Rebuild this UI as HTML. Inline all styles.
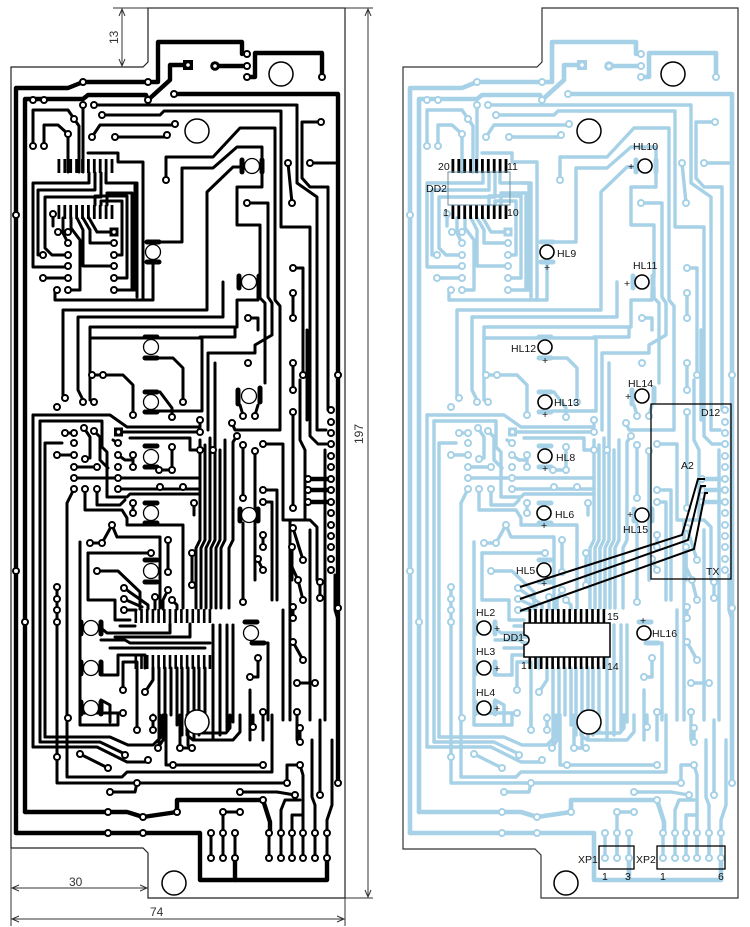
<!DOCTYPE html>
<html><head><meta charset="utf-8"><style>
html,body{margin:0;padding:0;background:#fff;}
svg{display:block;}
.t{fill:none;stroke:currentColor;stroke-width:var(--tw,3);stroke-linejoin:round;stroke-linecap:round;}
.k{fill:none;stroke:currentColor;stroke-width:var(--kw,4.4);stroke-linejoin:round;stroke-linecap:round;}
.p{fill:#fff;stroke:currentColor;stroke-width:2;}
.bar{fill:none;stroke:currentColor;stroke-width:5;stroke-linecap:round;}
.lbl{font-family:"Liberation Sans",sans-serif;font-size:10.5px;fill:#111;}
.dim{font-family:"Liberation Sans",sans-serif;font-size:12px;fill:#333;}
</style></head><body>
<svg width="750" height="927" viewBox="0 0 750 927" xmlns="http://www.w3.org/2000/svg" xmlns:xlink="http://www.w3.org/1999/xlink">
<defs>
<g id="tr">
<!-- thick -->
<path class="k" d="M16,833 V88 H68 L83,82 H158 V42 H242 V54"/>
<path class="k" d="M148,100 L170,80 V65 H183"/>
<path class="k" d="M25,812 V99 H83 L88,95 H146 L148,100"/>
<path class="k" d="M174,94 H338 V783"/>
<path class="k" d="M215,66 H247"/>
<path class="k" d="M247,77 H255 V53 H322 V77"/>
<path class="k" d="M16,833 H200 V880 H327 V858"/>
<path class="k" d="M235,880 V858"/>
<path class="k" d="M25,812 H127 L143,817 L177,812 V800 H263 L270,822 V833"/>
<path class="k" d="M308,479 H331 M308,490 H331 M308,502 H331"/>
<!-- top region -->
<path class="t" d="M83,105 V172"/>
<path class="t" d="M94,105 H297 V183 L317,197 V430 H326"/>
<path class="t" d="M102,115 H160 L164,111 H281 V227 H310 V436 L318,444 H326"/>
<path class="t" d="M92,137 L100,125 H175"/>
<path class="t" d="M115,137 H167"/>
<path class="t" d="M33,146 V110 H68 L79,126 V172"/>
<path class="t" d="M44,146 V125 H58 L68,134 V172"/>
<path class="t" d="M88,153 H118 V162 H143 V300"/>
<path class="t" d="M166,180 V157 H213 L240,128 H275 V300 L280,306 V430 H235 L232,423"/>
<path class="t" d="M153,242 H182 V168 H213 L237,147 H262 V158"/>
<path class="t" d="M240,167 H233 L207,192 V310 H63 V398"/>
<path class="t" d="M262,172 V187 H237 V225 H260 V277"/>
<path class="t" d="M260,288 V298 L265,303 V383"/>
<path class="t" d="M247,203 H268 V297 L272,303 V335 L255,345 V353 H208 V430"/>
<path class="t" d="M288,163 L292,203"/>
<path class="t" d="M310,163 H335"/>
<path class="t" d="M321,122 H302 V178 L310,187 H328 V410"/>
<path class="t" d="M293,268 H303 V375"/>
<path class="t" d="M293,293 V318 M293,363 V390 M293,413 V508"/>
<path class="t" d="M248,318 H258 V330"/>
<path class="t" d="M153,262 V300 H55 V290"/>
<path class="t" d="M114,290 H135 V183 H128"/>
<!-- DD2 routing -->
<path class="t" d="M89,173 V183 H33 V267 H68"/>
<path class="t" d="M95,173 V190 H38 V255 H43"/>
<path class="t" d="M101,173 V197 H45 V248 L52,255 H68"/>
<path class="t" d="M106,173 V183 H137 V297"/>
<path class="t" d="M63,218 V233 L68,243"/>
<path class="t" d="M71,218 V228 L80,240 V290 H68"/>
<path class="t" d="M77,218 L83,230 V266 H114"/>
<path class="t" d="M83,218 L90,230 V243 H114"/>
<path class="t" d="M89,218 L97,232 H114"/>
<path class="t" d="M95,205 V196 H127 V278 H114"/>
<path class="t" d="M101,205 V201 H122 V255 H114"/>
<path class="t" d="M107,205 V193 H132 V290"/>
<path class="t" d="M43,278 H68 M58,232 H68 M53,214 V226"/>
<!-- middle upper -->
<path class="t" d="M223,282 V317 H78 V390 L83,400"/>
<path class="t" d="M258,290 V300 H237 V327 H90 V400"/>
<path class="t" d="M90,338 H202 V411 H158"/>
<path class="t" d="M200,337 H235 V327"/>
<path class="t" d="M151,358 H173 L183,368 V402"/>
<path class="t" d="M92,375 H123 L133,385 V415"/>
<path class="t" d="M151,392 H160 L172,408 V417"/>
<path class="t" d="M33,415 H110 L127,427 H200 V420"/>
<path class="t" d="M40,421 H102 V447 L107,452 V497 H127 L130,494 H200"/>
<path class="t" d="M118,432 H200"/>
<path class="t" d="M33,415 V747 M40,421 V742 M45,443 V737 M45,443 H62"/>
<path class="t" d="M65,433 H74 M84,428 L90,437 V458 H85 M94,431 L100,437 V460 L108,468 M57,455 H74 M74,478 H200 M97,467 H74"/>
<path class="t" d="M85,489 V510 H122 L127,518 V525 H183 V608 M97,489 V505 H120 L125,500 M74,489 L67,503 V620"/>
<path class="t" d="M118,443 L113,440 M130,438 H190 V450 H200 M118,489 H200 M133,455 V467 M159,470 H172 M172,447 V470 M118,455 L125,460 H133 M133,503 V513 M194,503 V515"/>
<path class="t" d="M240,405 L243,415 M258,405 L255,415"/>
<path class="t" d="M243,445 V498 M255,451 V580 M237,436 L233,442 V540 L229,548 V608"/>
<path class="t" d="M263,444 H283 V520 H310 L317,527 V580"/>
<path class="t" d="M263,490 H277 V600 M263,502 H272 V600 M292,547 V580"/>
<path class="t" d="M307,330 V420 M300,380 V440 L305,450 V520"/>
<path class="t" d="M200,440 V540 L196,548 V608 M205,445 V540 L201,548 V608 M210,438 V540 L206,548 V608 M215,363 V540 L211,548 V608 M220,450 V540 L216,548 V608 M225,440 V540 L221,548 V608"/>
<path class="t" d="M213,625 V740 M220,625 V735 M227,625 V730 M233,625 V722"/>
<path class="t" d="M325,450 V720 M290,520 V720 M310,530 V720"/>
<!-- Z4 left -->
<path class="t" d="M57,587 V757"/>
<path class="t" d="M80,542 V713 H123"/>
<path class="t" d="M90,543 H102 L112,525"/>
<path class="t" d="M112,525 L117,537 H160 V608"/>
<path class="t" d="M168,540 V572"/>
<path class="t" d="M88,553 V600 H115 V620 H130"/>
<path class="t" d="M88,553 H151"/>
<path class="t" d="M97,571 H118 L140,592 V609"/>
<path class="t" d="M124,588 L148,605 V609 M124,599 L142,607 M124,610 H136"/>
<path class="t" d="M192,553 V585 M155,597 V609 M168,590 L163,600 V609 M172,600 L177,605 V609"/>
<path class="t" d="M101,628 L107,633 H170 V624"/>
<path class="t" d="M101,640 H125 L130,643 H210"/>
<path class="t" d="M110,648 H205 M115,637 H190 V624 M120,626 H135"/>
<path class="t" d="M101,675 H118 V655 H145 V668"/>
<path class="t" d="M123,690 V662 H137 V668"/>
<path class="t" d="M145,692 L153,680 V668"/>
<path class="t" d="M101,700 L110,705 V722"/>
<path class="t" d="M137,668 V730 M159,668 V745 M165,668 V740 M171,668 V715 M177,668 V725 M182,668 V735 M188,668 V745 M194,668 V740 M199,668 V735 M205,668 V730"/>
<!-- Z4 right -->
<path class="t" d="M243,523 V602"/>
<path class="t" d="M263,535 V548 M258,560 L263,570"/>
<path class="t" d="M293,528 L303,560 M292,547 V567 L298,580 L303,600 M293,607 V618 M293,642 L303,660 M320,582 V598"/>
<path class="t" d="M297,683 H315"/>
<path class="t" d="M262,643 H268 V720 M258,658 V677 H250"/>
<path class="t" d="M335,575 V610 L338,620"/>
<path class="t" d="M263,712 V740 M297,712 V740 M250,690 V740 M283,610 V720"/>
<!-- Z5 -->
<path class="t" d="M33,747 H97 L127,762 H147"/>
<path class="t" d="M40,742 H100 L125,754"/>
<path class="t" d="M45,737 H110 L128,745 H153 L160,738 V715"/>
<path class="t" d="M57,757 V783 H287"/>
<path class="t" d="M67,620 V777 H122 L127,772 H272 V715"/>
<path class="t" d="M110,792 H135 L137,783"/>
<path class="t" d="M80,754 L108,768"/>
<path class="t" d="M240,792 H277 L295,795"/>
<path class="t" d="M287,783 V765 H300"/>
<path class="t" d="M300,728 V742"/>
<path class="t" d="M223,812 H240 M223,812 V858"/>
<path class="t" d="M303,858 V775 L300,765"/>
<path class="t" d="M315,858 V805 L312,797 V740"/>
<path class="t" d="M327,858 V820 L332,805 V740"/>
<path class="t" d="M320,795 V720"/>
<path class="t" d="M166,715 V765 H263"/>
<path class="t" d="M180,715 V748 H192"/>
<path class="t" d="M187,715 V735 L193,740 H233 L240,732 V715"/>
<path class="t" d="M193,715 V728 L198,733 H226 L230,728 V715"/>
<path class="t" d="M80,715 V725 H118 V715"/>
<path class="t" d="M137,715 V730 M153,715 V730 M158,748 L163,740 V715 M253,727 V715"/>
<path class="t" d="M211,833 V858 M223,833 V858 M235,833 V858 M269,833 V858 M281,833 V858 M292,833 V858 M303,833 V858 M315,833 V858 M327,833 V858"/>
<path class="t" d="M281,833 V810 L285,800 H300 M292,833 V815 H303"/>
<!-- LED bars -->
<path class="bar" d="M147,242 H159 M147,262 H159"/>
<path class="bar" d="M242,160 V172 M262,160 V172"/>
<path class="bar" d="M239,276 V288 M259,276 V288"/>
<path class="bar" d="M145,337 H157 M145,358 H157"/>
<path class="bar" d="M145,392 H157 M145,412 H157"/>
<path class="bar" d="M238,390 V404 M260,388 V402"/>
<path class="bar" d="M145,446 H157 M145,467 H157"/>
<path class="bar" d="M145,503 H157 M145,523 H157"/>
<path class="bar" d="M240,509 V521 M258,509 V521"/>
<path class="bar" d="M145,560 H157 M145,582 H157"/>
<path class="bar" d="M81,622 V634 M101,622 V634"/>
<path class="bar" d="M81,662 V674 M101,662 V674"/>
<path class="bar" d="M81,702 V714 M101,702 V714"/>
<path class="bar" d="M245,622 H257 M252,643 H264"/>
<!-- pads -->
<g class="p">
<circle cx="83" cy="82" r="3"/><circle cx="148" cy="82" r="3"/><circle cx="148" cy="100" r="3"/><circle cx="33" cy="100" r="3"/><circle cx="44" cy="100" r="3"/><circle cx="174" cy="94" r="3"/><circle cx="247" cy="54" r="3"/><circle cx="247" cy="66" r="3"/><circle cx="247" cy="77" r="3"/><circle cx="322" cy="77" r="3"/><circle cx="94" cy="105" r="3"/><circle cx="83" cy="105" r="3"/><circle cx="102" cy="115" r="3"/><circle cx="92" cy="137" r="3"/><circle cx="175" cy="124" r="3"/><circle cx="115" cy="137" r="3"/><circle cx="167" cy="135" r="3"/><circle cx="33" cy="146" r="3"/><circle cx="44" cy="146" r="3"/><circle cx="74" cy="119" r="3"/><circle cx="68" cy="134" r="3"/><circle cx="166" cy="180" r="3"/><circle cx="247" cy="203" r="3"/><circle cx="288" cy="163" r="3"/><circle cx="292" cy="203" r="3"/><circle cx="310" cy="163" r="3"/><circle cx="321" cy="122" r="3"/><circle cx="293" cy="268" r="3"/><circle cx="293" cy="293" r="3"/><circle cx="16" cy="215" r="3"/><circle cx="16" cy="571" r="3"/><circle cx="25" cy="622" r="3"/>
<circle cx="68" cy="232" r="3"/><circle cx="68" cy="243" r="3"/><circle cx="68" cy="255" r="3"/><circle cx="68" cy="266" r="3"/><circle cx="68" cy="278" r="3"/><circle cx="68" cy="290" r="3"/><circle cx="114" cy="243" r="3"/><circle cx="114" cy="255" r="3"/><circle cx="114" cy="266" r="3"/><circle cx="114" cy="278" r="3"/><circle cx="114" cy="290" r="3"/><circle cx="58" cy="232" r="3"/><circle cx="43" cy="255" r="3"/><circle cx="43" cy="278" r="3"/><circle cx="57" cy="290" r="3"/><circle cx="53" cy="214" r="3"/>
<circle cx="65" cy="398" r="3"/><circle cx="83" cy="402" r="3"/><circle cx="94" cy="402" r="3"/><circle cx="57" cy="407" r="3"/><circle cx="92" cy="375" r="3"/><circle cx="103" cy="375" r="3"/><circle cx="133" cy="415" r="3"/><circle cx="183" cy="402" r="3"/><circle cx="172" cy="417" r="3"/><circle cx="200" cy="420" r="3"/><circle cx="200" cy="432" r="3"/><circle cx="248" cy="318" r="3"/><circle cx="248" cy="363" r="3"/><circle cx="243" cy="416" r="3"/><circle cx="255" cy="416" r="3"/><circle cx="293" cy="318" r="3"/><circle cx="293" cy="363" r="3"/><circle cx="293" cy="390" r="3"/><circle cx="293" cy="412" r="3"/><circle cx="303" cy="375" r="3"/><circle cx="338" cy="375" r="3"/>
<circle cx="65" cy="433" r="3"/><circle cx="74" cy="433" r="3"/><circle cx="84" cy="428" r="3"/><circle cx="94" cy="431" r="3"/><circle cx="74" cy="443" r="3"/><circle cx="57" cy="455" r="3"/><circle cx="74" cy="455" r="3"/><circle cx="85" cy="459" r="3"/><circle cx="74" cy="467" r="3"/><circle cx="97" cy="467" r="3"/><circle cx="74" cy="478" r="3"/><circle cx="74" cy="489" r="3"/><circle cx="85" cy="489" r="3"/><circle cx="97" cy="489" r="3"/>
<circle cx="118" cy="443" r="3"/><circle cx="118" cy="455" r="3"/><circle cx="118" cy="467" r="3"/><circle cx="118" cy="478" r="3"/><circle cx="118" cy="489" r="3"/><circle cx="133" cy="455" r="3"/><circle cx="133" cy="467" r="3"/><circle cx="159" cy="470" r="3"/><circle cx="172" cy="447" r="3"/><circle cx="172" cy="470" r="3"/><circle cx="160" cy="487" r="3"/><circle cx="183" cy="487" r="3"/><circle cx="200" cy="450" r="3"/><circle cx="213" cy="450" r="3"/><circle cx="232" cy="423" r="3"/><circle cx="237" cy="436" r="3"/><circle cx="243" cy="445" r="3"/><circle cx="243" cy="498" r="3"/><circle cx="255" cy="451" r="3"/><circle cx="263" cy="444" r="3"/><circle cx="263" cy="490" r="3"/><circle cx="133" cy="503" r="3"/><circle cx="133" cy="513" r="3"/><circle cx="194" cy="503" r="3"/>
<circle cx="331" cy="410" r="3"/><circle cx="331" cy="422" r="3"/><circle cx="331" cy="433" r="3"/><circle cx="331" cy="444" r="3"/><circle cx="331" cy="456" r="3"/><circle cx="331" cy="467" r="3"/><circle cx="331" cy="479" r="3"/><circle cx="331" cy="490" r="3"/><circle cx="331" cy="502" r="3"/><circle cx="331" cy="513" r="3"/><circle cx="331" cy="525" r="3"/><circle cx="331" cy="536" r="3"/><circle cx="331" cy="547" r="3"/><circle cx="331" cy="559" r="3"/><circle cx="331" cy="570" r="3"/><circle cx="308" cy="479" r="3"/><circle cx="308" cy="490" r="3"/><circle cx="308" cy="502" r="3"/>
<circle cx="57" cy="587" r="3"/><circle cx="57" cy="599" r="3"/><circle cx="57" cy="610" r="3"/><circle cx="57" cy="622" r="3"/><circle cx="90" cy="543" r="3"/><circle cx="102" cy="543" r="3"/><circle cx="112" cy="525" r="3"/><circle cx="97" cy="571" r="3"/><circle cx="124" cy="588" r="3"/><circle cx="124" cy="599" r="3"/><circle cx="124" cy="610" r="3"/><circle cx="155" cy="597" r="3"/><circle cx="168" cy="590" r="3"/><circle cx="172" cy="600" r="3"/><circle cx="151" cy="553" r="3"/><circle cx="168" cy="540" r="3"/><circle cx="168" cy="572" r="3"/><circle cx="192" cy="553" r="3"/><circle cx="192" cy="585" r="3"/><circle cx="123" cy="690" r="3"/><circle cx="145" cy="692" r="3"/><circle cx="123" cy="713" r="3"/>
<circle cx="243" cy="602" r="3"/><circle cx="263" cy="502" r="3"/><circle cx="293" cy="508" r="3"/><circle cx="263" cy="535" r="3"/><circle cx="263" cy="547" r="3"/><circle cx="258" cy="559" r="3"/><circle cx="263" cy="570" r="3"/><circle cx="293" cy="528" r="3"/><circle cx="303" cy="560" r="3"/><circle cx="292" cy="547" r="3"/><circle cx="298" cy="580" r="3"/><circle cx="303" cy="600" r="3"/><circle cx="293" cy="607" r="3"/><circle cx="293" cy="618" r="3"/><circle cx="293" cy="642" r="3"/><circle cx="303" cy="660" r="3"/><circle cx="320" cy="582" r="3"/><circle cx="320" cy="598" r="3"/><circle cx="297" cy="683" r="3"/><circle cx="315" cy="683" r="3"/><circle cx="297" cy="712" r="3"/><circle cx="258" cy="658" r="3"/><circle cx="250" cy="677" r="3"/><circle cx="263" cy="712" r="3"/><circle cx="338" cy="608" r="3"/>
<circle cx="137" cy="730" r="3"/><circle cx="153" cy="718" r="3"/><circle cx="153" cy="730" r="3"/><circle cx="57" cy="757" r="3"/><circle cx="80" cy="754" r="3"/><circle cx="108" cy="768" r="3"/><circle cx="125" cy="755" r="3"/><circle cx="148" cy="760" r="3"/><circle cx="158" cy="748" r="3"/><circle cx="180" cy="748" r="3"/><circle cx="192" cy="748" r="3"/><circle cx="173" cy="765" r="3"/><circle cx="263" cy="765" r="3"/><circle cx="253" cy="727" r="3"/><circle cx="300" cy="728" r="3"/><circle cx="300" cy="742" r="3"/><circle cx="300" cy="765" r="3"/><circle cx="287" cy="783" r="3"/><circle cx="338" cy="783" r="3"/><circle cx="320" cy="795" r="3"/><circle cx="295" cy="795" r="3"/><circle cx="240" cy="792" r="3"/><circle cx="137" cy="783" r="3"/><circle cx="110" cy="792" r="3"/><circle cx="263" cy="800" r="3"/><circle cx="223" cy="812" r="3"/><circle cx="240" cy="812" r="3"/><circle cx="108" cy="812" r="3"/><circle cx="143" cy="817" r="3"/><circle cx="177" cy="812" r="3"/><circle cx="108" cy="833" r="3"/><circle cx="143" cy="833" r="3"/><circle cx="68" cy="718" r="3"/>
<circle cx="211" cy="833" r="3"/><circle cx="223" cy="833" r="3"/><circle cx="235" cy="833" r="3"/><circle cx="269" cy="833" r="3"/><circle cx="281" cy="833" r="3"/><circle cx="292" cy="833" r="3"/><circle cx="303" cy="833" r="3"/><circle cx="315" cy="833" r="3"/><circle cx="327" cy="833" r="3"/>
<circle cx="211" cy="858" r="3"/><circle cx="223" cy="858" r="3"/><circle cx="235" cy="858" r="3"/><circle cx="269" cy="858" r="3"/><circle cx="281" cy="858" r="3"/><circle cx="292" cy="858" r="3"/><circle cx="303" cy="858" r="3"/><circle cx="315" cy="858" r="3"/><circle cx="327" cy="858" r="3"/>
</g>
<rect x="183" y="60" width="10" height="10" fill="currentColor"/><circle cx="188" cy="65" r="1.8" fill="#fff"/>
<circle cx="215" cy="66" r="4.8" fill="currentColor"/><circle cx="215" cy="66" r="1.8" fill="#fff"/>
<rect x="109.5" y="227.5" width="9" height="9" fill="currentColor"/><circle cx="114" cy="232" r="1.7" fill="#fff"/>
<rect x="114" y="427.5" width="9" height="9" fill="currentColor"/><circle cx="118.5" cy="432" r="1.7" fill="#fff"/>
</g>
<g id="chips" fill="#000">
<rect x="57.5" y="159" width="2.8" height="14"/><rect x="63.4" y="159" width="2.8" height="14"/><rect x="69.3" y="159" width="2.8" height="14"/><rect x="75.2" y="159" width="2.8" height="14"/><rect x="81.1" y="159" width="2.8" height="14"/><rect x="87" y="159" width="2.8" height="14"/><rect x="92.9" y="159" width="2.8" height="14"/><rect x="98.8" y="159" width="2.8" height="14"/><rect x="104.7" y="159" width="2.8" height="14"/><rect x="110.6" y="159" width="2.8" height="14"/>
<rect x="57.5" y="205" width="2.8" height="14"/><rect x="63.4" y="205" width="2.8" height="14"/><rect x="69.3" y="205" width="2.8" height="14"/><rect x="75.2" y="205" width="2.8" height="14"/><rect x="81.1" y="205" width="2.8" height="14"/><rect x="87" y="205" width="2.8" height="14"/><rect x="92.9" y="205" width="2.8" height="14"/><rect x="98.8" y="205" width="2.8" height="14"/><rect x="104.7" y="205" width="2.8" height="14"/><rect x="110.6" y="205" width="2.8" height="14"/>
<rect x="134.5" y="609" width="2.6" height="14"/><rect x="140.2" y="609" width="2.6" height="14"/><rect x="145.9" y="609" width="2.6" height="14"/><rect x="151.6" y="609" width="2.6" height="14"/><rect x="157.3" y="609" width="2.6" height="14"/><rect x="163" y="609" width="2.6" height="14"/><rect x="168.7" y="609" width="2.6" height="14"/><rect x="174.4" y="609" width="2.6" height="14"/><rect x="180.1" y="609" width="2.6" height="14"/><rect x="185.8" y="609" width="2.6" height="14"/><rect x="191.5" y="609" width="2.6" height="14"/><rect x="197.2" y="609" width="2.6" height="14"/><rect x="202.9" y="609" width="2.6" height="14"/><rect x="208.6" y="609" width="2.6" height="14"/>
<rect x="134.5" y="655" width="2.6" height="14"/><rect x="140.2" y="655" width="2.6" height="14"/><rect x="145.9" y="655" width="2.6" height="14"/><rect x="151.6" y="655" width="2.6" height="14"/><rect x="157.3" y="655" width="2.6" height="14"/><rect x="163" y="655" width="2.6" height="14"/><rect x="168.7" y="655" width="2.6" height="14"/><rect x="174.4" y="655" width="2.6" height="14"/><rect x="180.1" y="655" width="2.6" height="14"/><rect x="185.8" y="655" width="2.6" height="14"/><rect x="191.5" y="655" width="2.6" height="14"/><rect x="197.2" y="655" width="2.6" height="14"/><rect x="202.9" y="655" width="2.6" height="14"/><rect x="208.6" y="655" width="2.6" height="14"/>
</g>
<g id="holes" fill="#fff" stroke="#000" stroke-width="1.5">
<circle cx="281" cy="74" r="12"/><circle cx="197" cy="131" r="12"/><circle cx="197" cy="722" r="12"/><circle cx="174" cy="883" r="12"/>
</g>
</defs>

<rect width="750" height="927" fill="#fff"/>

<!-- LEFT BOARD -->
<path d="M148,8 H345 V898 H148 V853 L143,848 H11 V67 H143 L148,62 Z" fill="none" stroke="#222" stroke-width="1.2"/>
<use xlink:href="#tr" href="#tr" style="color:#000"/>
<use xlink:href="#chips" href="#chips"/>
<use xlink:href="#holes" href="#holes"/>
<g fill="#fff" stroke="#000" stroke-width="1.3">
<circle cx="153" cy="252" r="7.5"/><circle cx="252" cy="166" r="7.5"/><circle cx="249" cy="282" r="7.5"/><circle cx="151" cy="347" r="7.5"/><circle cx="151" cy="402" r="7.5"/><circle cx="249" cy="396" r="7.5"/><circle cx="151" cy="457" r="7.5"/><circle cx="151" cy="513" r="7.5"/><circle cx="249" cy="515" r="7.5"/><circle cx="151" cy="571" r="7.5"/><circle cx="91" cy="628" r="7.5"/><circle cx="91" cy="668" r="7.5"/><circle cx="91" cy="708" r="7.5"/><circle cx="251" cy="633" r="7.5"/>
</g>
<!-- dimensions -->
<g stroke="#333" stroke-width="1" fill="none">
<path d="M113,8 H373"/>
<path d="M122,9 V66 M119,16 L122,9 L125,16 M119,59 L122,66 L125,59"/>
<path d="M368,9 V897 M365,16 L368,9 L371,16 M365,890 L368,897 L371,890"/>
<path d="M345,898 H373"/>
<path d="M11,848 V926 M345,898 V926"/>
<path d="M12,888 H147 M19,885 L12,888 L19,891 M140,885 L147,888 L140,891"/>
<path d="M12,919 H344 M19,916 L12,919 L19,922 M337,916 L344,919 L337,922"/>
</g>
<text class="dim" transform="translate(118,44) rotate(-90)">13</text>
<text class="dim" transform="translate(363,444) rotate(-90)">197</text>
<text class="dim" x="69" y="886">30</text>
<text class="dim" x="150" y="916">74</text>

<!-- RIGHT BOARD -->
<path d="M542,8 H738 V898 H541 V855 L535,849 H403 V67 H537 L542,62 Z" fill="none" stroke="#333" stroke-width="1.2"/>
<use xlink:href="#tr" href="#tr" transform="translate(394,0)" style="color:#a6d1e6;--tw:3.4;--kw:4.6"/>
<use xlink:href="#chips" href="#chips" transform="translate(394,0)"/>
<use xlink:href="#holes" href="#holes" transform="translate(392,0)"/>
<g fill="#fff" stroke="#000" stroke-width="1.6">
<circle cx="547" cy="252" r="7"/><circle cx="645" cy="166" r="7"/><circle cx="642" cy="282" r="7"/><circle cx="545" cy="347" r="7"/><circle cx="545" cy="402" r="7"/><circle cx="642" cy="396" r="7"/><circle cx="545" cy="456" r="7"/><circle cx="544" cy="513" r="7"/><circle cx="642" cy="515" r="7"/><circle cx="544" cy="570" r="7"/><circle cx="484" cy="628" r="7"/><circle cx="484" cy="668" r="7"/><circle cx="484" cy="708" r="7"/><circle cx="644" cy="633" r="7"/>
</g>
<rect x="448" y="172" width="62" height="33" fill="none" stroke="#6a8fa0" stroke-width="1"/>
<path d="M524,623 H610 V657 H524 V645 A5,5 0 0 0 524,635 Z" fill="#fff" stroke="#000" stroke-width="1.5"/>
<rect x="651" y="404" width="80" height="175" fill="none" stroke="#000" stroke-width="1.3"/>
<g fill="none" stroke="#000" stroke-width="2">
<path d="M705,479 H698 L682,535 L520,587"/>
<path d="M706,486 H701 L688,540 L520,599"/>
<path d="M708,493 H705 L694,549 L520,611"/>
</g>
<rect x="599" y="846" width="35" height="23" fill="none" stroke="#000" stroke-width="1.3"/>
<rect x="657" y="846" width="68" height="23" fill="none" stroke="#000" stroke-width="1.3"/>
<g class="lbl">
<text x="633" y="150">HL10</text><text x="628" y="170">+</text>
<text x="557" y="257">HL9</text><text x="544" y="271">+</text>
<text x="633" y="269">HL11</text><text x="624" y="287">+</text>
<text x="511" y="352">HL12</text><text x="542" y="364">+</text>
<text x="554" y="406">HL13</text><text x="542" y="418">+</text>
<text x="628" y="387">HL14</text><text x="625" y="400">+</text>
<text x="556" y="461">HL8</text><text x="542" y="472">+</text>
<text x="555" y="518">HL6</text><text x="541" y="529">+</text>
<text x="623" y="533">HL15</text><text x="627" y="518">+</text>
<text x="516" y="574">HL5</text><text x="541" y="587">+</text>
<text x="476" y="616">HL2</text><text x="494" y="632">+</text>
<text x="476" y="655">HL3</text><text x="494" y="672">+</text>
<text x="476" y="696">HL4</text><text x="494" y="712">+</text>
<text x="652" y="637">HL16</text><text x="640" y="624">+</text>
<text x="426" y="192">DD2</text>
<text x="438" y="170">20</text><text x="507" y="170">11</text>
<text x="443" y="216">1</text><text x="507" y="216">10</text>
<text x="503" y="641">DD1</text>
<text x="607" y="620">15</text><text x="607" y="670">14</text><text x="521" y="669">1</text>
<text x="701" y="416">D12</text>
<text x="681" y="469">A2</text>
<text x="706" y="575">TX</text>
<text x="578" y="863">XP1</text><text x="602" y="880">1</text><text x="625" y="880">3</text>
<text x="636" y="863">XP2</text><text x="660" y="880">1</text><text x="718" y="880">6</text>
</g>
</svg>
</body></html>
